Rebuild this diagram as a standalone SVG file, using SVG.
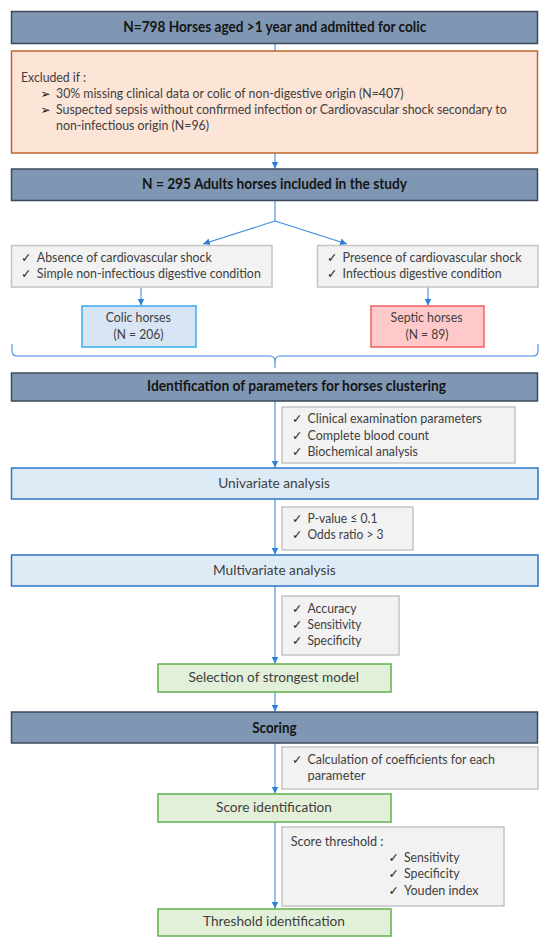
<svg xmlns="http://www.w3.org/2000/svg" width="550" height="945" viewBox="0 0 550 945">
<defs>
<marker id="ah" viewBox="0 0 10 10" refX="10" refY="5" markerWidth="7" markerHeight="7" markerUnits="userSpaceOnUse" orient="auto">
<path d="M0,0 L10,5 L0,10 z" fill="#2e7fd8"/>
</marker>
</defs>
<style>
.hdr{fill:#7f97b2;stroke:#3b4a5d;stroke-width:1.5}
.excl{fill:#fce4d6;stroke:#c0662c;stroke-width:1.5}
.gray{fill:#f2f2f2;stroke:#c4c4c4;stroke-width:1.5}
.lblue{fill:#ddebf7;stroke:#2e75c6;stroke-width:1.5}
.colic{fill:#d7e4f4;stroke:#3aa8ef;stroke-width:1.5}
.septic{fill:#ffc9c9;stroke:#f06060;stroke-width:1.5}
.green{fill:#e2f0d9;stroke:#5fb04a;stroke-width:1.5}
text{font-family:Lato,"Liberation Sans",sans-serif;font-size:13.5px;fill:#404040}
.ht{font-weight:bold;font-size:14.5px;fill:#151515}
.ck{font-family:"DejaVu Sans",sans-serif;font-size:12.5px;fill:#202020}
.bl{font-family:"DejaVu Sans",sans-serif;font-size:12px;fill:#202020}
.con{fill:none;stroke:#3d8ade;stroke-width:1.1}
</style>

<g id="connectors">
<line class="con" x1="275" y1="43.5" x2="275" y2="51"/>
<line class="con" x1="275" y1="153" x2="275" y2="168.5" marker-end="url(#ah)"/>
<polyline class="con" points="275,200.5 275,221"/>
<line class="con" x1="275" y1="221" x2="203" y2="244" marker-end="url(#ah)"/>
<line class="con" x1="275" y1="221" x2="347" y2="244" marker-end="url(#ah)"/>
<line class="con" x1="141" y1="287" x2="141" y2="305.5" marker-end="url(#ah)"/>
<line class="con" x1="428" y1="287" x2="428" y2="305.5" marker-end="url(#ah)"/>
<path class="con" d="M12,344 V351 Q12,356 17,356 H270 Q275,356 275,362 V368 M275,362 Q275,356 280,356 H533 Q538,356 538,351 V344" stroke="#5b9bd5"/>
<line class="con" x1="275" y1="401" x2="275" y2="467.5" marker-end="url(#ah)"/>
<line class="con" x1="275" y1="499" x2="275" y2="554.5" marker-end="url(#ah)"/>
<line class="con" x1="275" y1="586" x2="275" y2="663.5" marker-end="url(#ah)"/>
<line class="con" x1="275" y1="692" x2="275" y2="711.5" marker-end="url(#ah)"/>
<line class="con" x1="275" y1="743" x2="275" y2="793.5" marker-end="url(#ah)"/>
<line class="con" x1="275" y1="822" x2="275" y2="908.5" marker-end="url(#ah)"/>
</g>

<g id="n1">
<rect class="hdr" x="11.5" y="11.5" width="526" height="32"/>
<text class="ht" x="123.3" y="32.3" textLength="303" lengthAdjust="spacingAndGlyphs">N=798 Horses aged &gt;1 year and admitted for colic</text>
</g>

<g id="excluded">
<rect class="excl" x="11.5" y="51" width="526" height="102"/>
<text x="21" y="81.7" textLength="65" lengthAdjust="spacingAndGlyphs">Excluded if :</text>
<text class="bl" x="40.5" y="98.3">➢</text>
<text x="56" y="98.3" textLength="347.5" lengthAdjust="spacingAndGlyphs">30% missing clinical data or colic of non-digestive origin (N=407)</text>
<text class="bl" x="40.5" y="114">➢</text>
<text x="56" y="114" textLength="450.8" lengthAdjust="spacingAndGlyphs">Suspected sepsis without confirmed infection or Cardiovascular shock secondary to</text>
<text x="56" y="130" textLength="153" lengthAdjust="spacingAndGlyphs">non-infectious origin (N=96)</text>
</g>

<g id="n2">
<rect class="hdr" x="11.5" y="169" width="526" height="31.5"/>
<text class="ht" x="142" y="189.3" textLength="265" lengthAdjust="spacingAndGlyphs">N = 295 Adults horses included in the study</text>
</g>

<g id="absence">
<rect class="gray" x="11.5" y="245.5" width="260.5" height="41.5"/>
<text class="ck" x="21" y="261.7">✓</text>
<text x="36.8" y="261.7" textLength="175" lengthAdjust="spacingAndGlyphs">Absence of cardiovascular shock</text>
<text class="ck" x="21" y="278.3">✓</text>
<text x="36.8" y="278.3" textLength="224" lengthAdjust="spacingAndGlyphs">Simple non-infectious digestive condition</text>
</g>

<g id="presence">
<rect class="gray" x="317.5" y="245.5" width="220.5" height="41.5"/>
<text class="ck" x="327" y="261.7">✓</text>
<text x="342.6" y="261.7" textLength="179" lengthAdjust="spacingAndGlyphs">Presence of cardiovascular shock</text>
<text class="ck" x="327" y="278.3">✓</text>
<text x="342.6" y="278.3" textLength="159" lengthAdjust="spacingAndGlyphs">Infectious digestive condition</text>
</g>

<g id="colic">
<rect class="colic" x="82" y="306" width="114" height="41"/>
<text x="105.8" y="322.3" textLength="65" lengthAdjust="spacingAndGlyphs">Colic horses</text>
<text x="113.5" y="339" textLength="50" lengthAdjust="spacingAndGlyphs">(N = 206)</text>
</g>

<g id="septic">
<rect class="septic" x="371" y="306" width="113" height="41"/>
<text x="390.5" y="322.3" textLength="72" lengthAdjust="spacingAndGlyphs">Septic horses</text>
<text x="405.5" y="339" textLength="43" lengthAdjust="spacingAndGlyphs">(N = 89)</text>
</g>

<g id="n3">
<rect class="hdr" x="11.5" y="373" width="526" height="28"/>
<text class="ht" x="147" y="390.7" textLength="299" lengthAdjust="spacingAndGlyphs">Identification of parameters for horses clustering</text>
</g>

<g id="params">
<rect class="gray" x="282" y="407" width="233" height="56"/>
<text class="ck" x="292" y="423.3">✓</text>
<text x="307.5" y="423.3" textLength="174.5" lengthAdjust="spacingAndGlyphs">Clinical examination parameters</text>
<text class="ck" x="292" y="440">✓</text>
<text x="307.5" y="440" textLength="121.6" lengthAdjust="spacingAndGlyphs">Complete blood count</text>
<text class="ck" x="292" y="456">✓</text>
<text x="307.5" y="456" textLength="110.3" lengthAdjust="spacingAndGlyphs">Biochemical analysis</text>
</g>

<g id="univariate">
<rect class="lblue" x="11.5" y="468" width="526.5" height="31"/>
<text x="218.2" y="487.7" textLength="111.7" lengthAdjust="spacingAndGlyphs">Univariate analysis</text>
</g>

<g id="pvalue">
<rect class="gray" x="282" y="507" width="131" height="43"/>
<text class="ck" x="292" y="523.3">✓</text>
<text x="307.5" y="523.3" textLength="70" lengthAdjust="spacingAndGlyphs">P-value ≤ 0.1</text>
<text class="ck" x="292" y="539.3">✓</text>
<text x="307.5" y="539.3" textLength="76" lengthAdjust="spacingAndGlyphs">Odds ratio &gt; 3</text>
</g>

<g id="multivariate">
<rect class="lblue" x="11.5" y="555" width="526.5" height="31"/>
<text x="213" y="575" textLength="122.6" lengthAdjust="spacingAndGlyphs">Multivariate analysis</text>
</g>

<g id="accuracy">
<rect class="gray" x="282" y="596" width="117" height="59"/>
<text class="ck" x="292" y="612.7">✓</text>
<text x="307.5" y="612.7" textLength="49" lengthAdjust="spacingAndGlyphs">Accuracy</text>
<text class="ck" x="292" y="629.3">✓</text>
<text x="307.5" y="629.3" textLength="54" lengthAdjust="spacingAndGlyphs">Sensitivity</text>
<text class="ck" x="292" y="645">✓</text>
<text x="307.5" y="645" textLength="54" lengthAdjust="spacingAndGlyphs">Specificity</text>
</g>

<g id="selection">
<rect class="green" x="158" y="664" width="233" height="28"/>
<text x="188.4" y="682" textLength="170.6" lengthAdjust="spacingAndGlyphs">Selection of strongest model</text>
</g>

<g id="scoring">
<rect class="hdr" x="11.5" y="712" width="526" height="31"/>
<text class="ht" x="252.2" y="732.7" textLength="44.5" lengthAdjust="spacingAndGlyphs">Scoring</text>
</g>

<g id="coefficients">
<rect class="gray" x="282" y="747" width="256" height="42"/>
<text class="ck" x="292" y="764">✓</text>
<text x="307.5" y="764" textLength="187.4" lengthAdjust="spacingAndGlyphs">Calculation of coefficients for each</text>
<text x="307.5" y="780" textLength="58" lengthAdjust="spacingAndGlyphs">parameter</text>
</g>

<g id="scoreid">
<rect class="green" x="158" y="794" width="233" height="28"/>
<text x="216" y="812.3" textLength="116" lengthAdjust="spacingAndGlyphs">Score identification</text>
</g>

<g id="threshold-box">
<rect class="gray" x="282" y="827" width="222" height="79"/>
<text x="290.7" y="845.7" textLength="92.8" lengthAdjust="spacingAndGlyphs">Score threshold :</text>
<text class="ck" x="388.5" y="862.3">✓</text>
<text x="404" y="862.3" textLength="55.5" lengthAdjust="spacingAndGlyphs">Sensitivity</text>
<text class="ck" x="388.5" y="878">✓</text>
<text x="404" y="878" textLength="55.5" lengthAdjust="spacingAndGlyphs">Specificity</text>
<text class="ck" x="388.5" y="894.7">✓</text>
<text x="404" y="894.7" textLength="74.5" lengthAdjust="spacingAndGlyphs">Youden index</text>
</g>

<g id="thresholdid">
<rect class="green" x="158" y="909" width="233" height="27"/>
<text x="203" y="926.3" textLength="142" lengthAdjust="spacingAndGlyphs">Threshold identification</text>
</g>
</svg>
